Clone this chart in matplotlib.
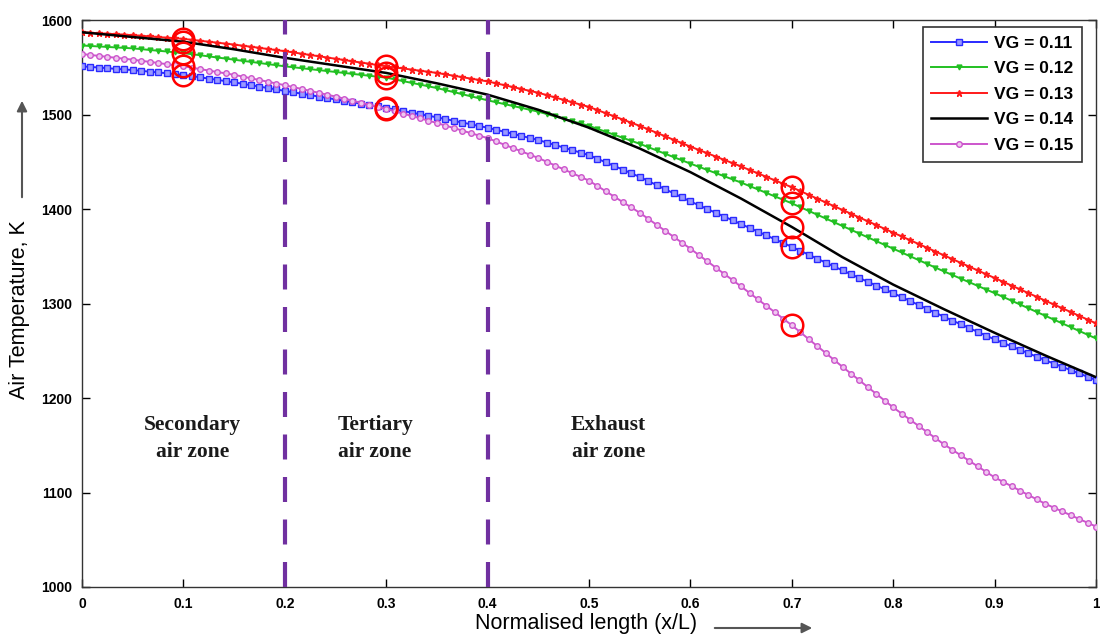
import numpy as np
import matplotlib
matplotlib.use("Agg")
import matplotlib.pyplot as plt

# ---------------- data ----------------
x_fine = [i / 120 for i in range(121)]   # sample positions of the marker series (x/L)
x_black = [i / 20 for i in range(21)]

vg_labels = ["VG = 0.11", "VG = 0.12", "VG = 0.13", "VG = 0.14", "VG = 0.15"]

vg011 = [1551,
         1550.3, 1549.7, 1549, 1548.3, 1547.7, 1547,
         1546.2, 1545.3, 1544.5, 1543.7, 1542.8, 1542,
         1540.7, 1539.3, 1538, 1536.7, 1535.3, 1534,
         1532.5, 1531, 1529.5, 1528, 1526.5, 1525,
         1523.5, 1522, 1520.5, 1519, 1517.5, 1516,
         1514.5, 1513, 1511.5, 1510, 1508.5, 1507,
         1505.3, 1503.7, 1502, 1500.3, 1498.7, 1497,
         1495.2, 1493.3, 1491.5, 1489.7, 1487.8, 1486,
         1483.8, 1481.7, 1479.5, 1477.3, 1475.2, 1473,
         1470.3, 1467.7, 1465, 1462.3, 1459.7, 1457,
         1453.2, 1449.3, 1445.5, 1441.7, 1437.8, 1434,
         1429.7, 1425.3, 1421, 1416.7, 1412.3, 1408,
         1404, 1400, 1396, 1392, 1388, 1384,
         1380, 1376, 1372, 1368, 1364, 1360,
         1355.8, 1351.7, 1347.5, 1343.3, 1339.2, 1335,
         1331, 1327, 1323, 1319, 1315, 1311,
         1306.8, 1302.7, 1298.5, 1294.3, 1290.2, 1286,
         1282, 1278, 1274, 1270, 1266, 1262,
         1258.3, 1254.7, 1251, 1247.3, 1243.7, 1240,
         1236.5, 1233, 1229.5, 1226, 1222.5, 1219]

vg012 = [1573,
         1572.5, 1572, 1571.5, 1571, 1570.5, 1570,
         1569.2, 1568.3, 1567.5, 1566.7, 1565.8, 1565,
         1563.8, 1562.7, 1561.5, 1560.3, 1559.2, 1558,
         1556.8, 1555.7, 1554.5, 1553.3, 1552.2, 1551,
         1550, 1549, 1548, 1547, 1546, 1545,
         1544, 1543, 1542, 1541, 1540, 1539,
         1537.2, 1535.3, 1533.5, 1531.7, 1529.8, 1528,
         1525.8, 1523.7, 1521.5, 1519.3, 1517.2, 1515,
         1513, 1511, 1509, 1507, 1505, 1503,
         1500.5, 1498, 1495.5, 1493, 1490.5, 1488,
         1484.8, 1481.7, 1478.5, 1475.3, 1472.2, 1469,
         1465.5, 1462, 1458.5, 1455, 1451.5, 1448,
         1444.7, 1441.3, 1438, 1434.7, 1431.3, 1428,
         1424.3, 1420.7, 1417, 1413.3, 1409.7, 1406,
         1402, 1398, 1394, 1390, 1386, 1382,
         1378, 1374, 1370, 1366, 1362, 1358,
         1354, 1350, 1346, 1342, 1338, 1334,
         1330.2, 1326.3, 1322.5, 1318.7, 1314.8, 1311,
         1307, 1303, 1299, 1295, 1291, 1287,
         1283, 1279, 1275, 1271, 1267, 1263]

vg013 = [1587,
         1586.5, 1586, 1585.5, 1585, 1584.5, 1584,
         1583.3, 1582.7, 1582, 1581.3, 1580.7, 1580,
         1579, 1578, 1577, 1576, 1575, 1574,
         1572.8, 1571.7, 1570.5, 1569.3, 1568.2, 1567,
         1565.7, 1564.3, 1563, 1561.7, 1560.3, 1559,
         1557.7, 1556.3, 1555, 1553.7, 1552.3, 1551,
         1549.8, 1548.7, 1547.5, 1546.3, 1545.2, 1544,
         1542.5, 1541, 1539.5, 1538, 1536.5, 1535,
         1533, 1531, 1529, 1527, 1525, 1523,
         1520.5, 1518, 1515.5, 1513, 1510.5, 1508,
         1504.7, 1501.3, 1498, 1494.7, 1491.3, 1488,
         1484.3, 1480.7, 1477, 1473.3, 1469.7, 1466,
         1462.5, 1459, 1455.5, 1452, 1448.5, 1445,
         1441.3, 1437.7, 1434, 1430.3, 1426.7, 1423,
         1419, 1415, 1411, 1407, 1403, 1399,
         1395, 1391, 1387, 1383, 1379, 1375,
         1371, 1367, 1363, 1359, 1355, 1351,
         1347, 1343, 1339, 1335, 1331, 1327,
         1323, 1319, 1315, 1311, 1307, 1303,
         1299, 1295, 1291, 1287, 1283, 1279]

vg014 = [1587, 1582, 1577, 1569, 1560, 1552, 1544, 1533, 1521, 1505, 1486,
         1464, 1439, 1411, 1381, 1349, 1320, 1294, 1269, 1245, 1222]

vg015 = [1564,
         1563, 1562, 1561, 1560, 1559, 1558,
         1556.8, 1555.7, 1554.5, 1553.3, 1552.2, 1551,
         1549.5, 1548, 1546.5, 1545, 1543.5, 1542,
         1540.2, 1538.3, 1536.5, 1534.7, 1532.8, 1531,
         1529, 1527, 1525, 1523, 1521, 1519,
         1516.8, 1514.7, 1512.5, 1510.3, 1508.2, 1506,
         1503.5, 1501, 1498.5, 1496, 1493.5, 1491,
         1488.3, 1485.7, 1483, 1480.3, 1477.7, 1475,
         1471.5, 1468, 1464.5, 1461, 1457.5, 1454,
         1450, 1446, 1442, 1438, 1434, 1430,
         1424.3, 1418.7, 1413, 1407.3, 1401.7, 1396,
         1389.7, 1383.3, 1377, 1370.7, 1364.3, 1358,
         1351.3, 1344.7, 1338, 1331.3, 1324.7, 1318,
         1311.2, 1304.3, 1297.5, 1290.7, 1283.8, 1277,
         1269.7, 1262.3, 1255, 1247.7, 1240.3, 1233,
         1225.8, 1218.7, 1211.5, 1204.3, 1197.2, 1190,
         1183.5, 1177, 1170.5, 1164, 1157.5, 1151,
         1145.2, 1139.3, 1133.5, 1127.7, 1121.8, 1116,
         1111.3, 1106.7, 1102, 1097.3, 1092.7, 1088,
         1084, 1080, 1076, 1072, 1068, 1064]

highlight_x = [0.1, 0.3, 0.7]          # positions of the red circles
zone_lines = [0.2, 0.4]
zone_labels = ["Secondary\nair zone", "Tertiary\nair zone", "Exhaust\nair zone"]
zone_label_x = [0.109, 0.289, 0.519]
zone_label_y = 1157

x_ticks = [i / 10 for i in range(11)]
x_ticklabels = ["0", "0.1", "0.2", "0.3", "0.4", "0.5", "0.6", "0.7", "0.8", "0.9", "1"]
y_ticks = [1000, 1100, 1200, 1300, 1400, 1500, 1600]

# ---------------- figure ----------------
tick_font = ["Liberation Sans Narrow", "Liberation Sans", "DejaVu Sans"]
fig = plt.figure(figsize=(11, 6.37), dpi=100)
ax = fig.add_axes([82 / 1100, 50 / 637, 1014 / 1100, 567 / 637])

blue = "#2a2aff"
green = "#22c022"
red = "#ff1a1a"
mag = "#cc55cc"

ax.plot(x_fine, vg011, color=blue, lw=1.4, marker="s", ms=4, mfc="#9999ff", mec=blue, mew=1.0,
        label=vg_labels[0], zorder=3)
ax.plot(x_fine, vg012, color=green, lw=1.4, marker="v", ms=3.5, mfc=green, mec=green,
        label=vg_labels[1], zorder=3)
ax.plot(x_fine, vg013, color=red, lw=1.4, marker="*", ms=4.5, mfc=red, mec=red,
        label=vg_labels[2], zorder=3)
ax.plot(x_black, vg014, color="black", lw=1.8, label=vg_labels[3], zorder=4)
ax.plot(x_fine, vg015, color=mag, lw=1.4, marker="o", ms=4, mfc="#f0c8f0", mec=mag, mew=1.0,
        label=vg_labels[4], zorder=3)

# red circles at the highlighted positions
for series, xs in [(vg011, x_fine), (vg012, x_fine), (vg013, x_fine), (vg014, x_black), (vg015, x_fine)]:
    for hx in highlight_x:
        hy = np.interp(hx, xs, series)
        ax.plot([hx], [hy], marker="o", ms=15.5, mfc="none", mec="red", mew=1.8, zorder=6)

for zx in zone_lines:
    ax.axvline(zx, color="#7030a0", lw=3, dashes=(6, 4.2), zorder=5)

for lx, lt in zip(zone_label_x, zone_labels):
    ax.text(lx, zone_label_y, lt, ha="center", va="center", fontsize=15.5, fontweight="bold",
            family=["Liberation Serif", "DejaVu Serif"], linespacing=1.45, color="#1a1a1a")

ax.set_xlim(0, 1)
ax.set_ylim(1000, 1600)
ax.set_xticks(x_ticks)
ax.set_xticklabels(x_ticklabels)
ax.set_yticks(y_ticks)
ax.tick_params(direction="in", top=True, right=True, length=6, width=1, pad=7, labelsize=10)
for lab in ax.get_xticklabels() + ax.get_yticklabels():
    lab.set_family(tick_font)
    lab.set_fontweight("bold")
for sp in ax.spines.values():
    sp.set_linewidth(1.0)
    sp.set_color("#333333")

leg = ax.legend(loc="upper right", bbox_to_anchor=(0.986, 0.988), borderaxespad=0, fancybox=False,
                framealpha=1, edgecolor="#333333",
                prop={"family": tick_font, "weight": "bold", "size": 12.5},
                handlelength=3.2, borderpad=0.5, labelspacing=0.6, handletextpad=0.4)
leg.get_frame().set_linewidth(1.2)

# axis labels with arrows (as in the original figure)
fig.text(20 / 1100, 1 - 310 / 637, "Air Temperature, K", rotation=90, ha="center", va="center",
         fontsize=15.5, family=["Liberation Sans", "DejaVu Sans"])
fig.text(586 / 1100, 1 - 624 / 637, "Normalised length (x/L)", ha="center", va="center",
         fontsize=15.5, family=["Liberation Sans", "DejaVu Sans"])
fig.patches.append(matplotlib.patches.FancyArrowPatch(
    (22 / 1100, 1 - 200 / 637), (22 / 1100, 1 - 98 / 637), transform=fig.transFigure,
    arrowstyle="-|>,head_length=6,head_width=3", color="#555555", lw=1.5, mutation_scale=1))
fig.patches.append(matplotlib.patches.FancyArrowPatch(
    (712 / 1100, 1 - 628 / 637), (815 / 1100, 1 - 628 / 637), transform=fig.transFigure,
    arrowstyle="-|>,head_length=6,head_width=3", color="#555555", lw=1.5, mutation_scale=1))

fig.savefig("out.png", dpi=100)
